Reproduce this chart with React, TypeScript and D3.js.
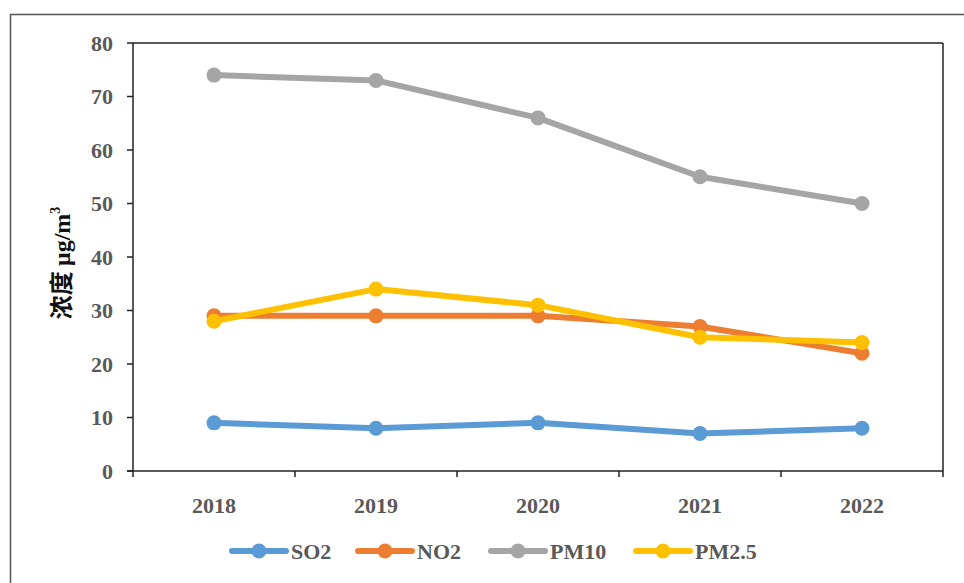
import React from "react";
import * as d3 from "d3";

const years = ["2018", "2019", "2020", "2021", "2022"];
const so2 = [9, 8, 9, 7, 8];
const no2 = [29, 29, 29, 27, 22];
const pm10 = [74, 73, 66, 55, 50];
const pm25 = [28, 34, 31, 25, 24];
const yTicks = [0, 10, 20, 30, 40, 50, 60, 70, 80];
const seriesNames = ["SO2", "NO2", "PM10", "PM2.5"];
const seriesColors = ["#5B9BD5", "#ED7D31", "#A5A5A5", "#FFC000"];

const W = 964, H = 583;
const left = 133, right = 943, top = 43, bottom = 471;

export default function App() {
  const x = d3.scaleBand().domain(years).range([left, right]);
  const y = d3.scaleLinear().domain([0, 80]).range([bottom, top]);
  const series = [so2, no2, pm10, pm25];
  const line = d3.line<number>().x((_, i) => (x(years[i]) as number) + x.bandwidth() / 2).y((d) => y(d));
  const serif = "'Liberation Serif', 'Times New Roman', serif";
  const tickColor = "#595959";
  const legendX = [232, 358, 491, 636];
  return (
    <svg width={W} height={H} style={{ position: "absolute", left: 0, top: 0, background: "#fff" }}>
      <rect x={10.5} y={14.5} width={W} height={H} fill="#fff" stroke="#555" strokeWidth={1.5} />
      <line x1={left} x2={right} y1={top} y2={top} stroke="#222" strokeWidth={1.5} />
      <line x1={right} x2={right} y1={top} y2={bottom} stroke="#222" strokeWidth={1.5} />
      <line x1={left} x2={left} y1={top} y2={bottom} stroke="#222" strokeWidth={1.5} />
      <line x1={left - 6} x2={right} y1={bottom} y2={bottom} stroke="#222" strokeWidth={1.5} />
      {yTicks.map((t) => (
        <g key={t}>
          <line x1={left - 6} x2={left} y1={y(t)} y2={y(t)} stroke="#222" strokeWidth={1.5} />
          <text x={113} y={y(t)} dy="0.35em" textAnchor="end" fontFamily={serif} fontWeight="bold" fontSize={22} fill={tickColor}>
            {t}
          </text>
        </g>
      ))}
      {years.map((yr) => (
        <g key={yr}>
          <line x1={x(yr)} x2={x(yr)} y1={bottom} y2={bottom + 6} stroke="#222" strokeWidth={1.5} />
          <text x={(x(yr) as number) + x.bandwidth() / 2} y={505} dy="0.35em" textAnchor="middle" fontFamily={serif} fontWeight="bold" fontSize={22} fill={tickColor}>
            {yr}
          </text>
        </g>
      ))}
      <line x1={right} x2={right} y1={bottom} y2={bottom + 6} stroke="#222" strokeWidth={1.5} />
      <text transform={`translate(70,${(top + bottom) / 2 + 6}) rotate(-90)`} textAnchor="middle" fontWeight="bold" fontSize={24} fill="#111">
        <tspan fontFamily="'Noto Sans CJK SC', sans-serif">浓度 </tspan>
        <tspan fontFamily={serif}>μg/m</tspan>
        <tspan fontFamily={serif} fontSize={14} dy={-10}>3</tspan>
      </text>
      {series.map((s, k) => (
        <g key={k}>
          <path d={line(s) || ""} fill="none" stroke={seriesColors[k]} strokeWidth={6} strokeLinejoin="round" />
          {s.map((v, i) => (
            <circle key={i} cx={(x(years[i]) as number) + x.bandwidth() / 2} cy={y(v)} r={7.5} fill={seriesColors[k]} />
          ))}
        </g>
      ))}
      {seriesNames.map((n, k) => (
        <g key={n}>
          <line x1={legendX[k]} x2={legendX[k] + 54} y1={551} y2={551} stroke={seriesColors[k]} strokeWidth={6} strokeLinecap="round" />
          <circle cx={legendX[k] + 27} cy={551} r={7.5} fill={seriesColors[k]} />
          <text x={legendX[k] + 59} y={551} dy="0.35em" fontFamily={serif} fontWeight="bold" fontSize={22} fill={tickColor}>
            {n}
          </text>
        </g>
      ))}
    </svg>
  );
}
